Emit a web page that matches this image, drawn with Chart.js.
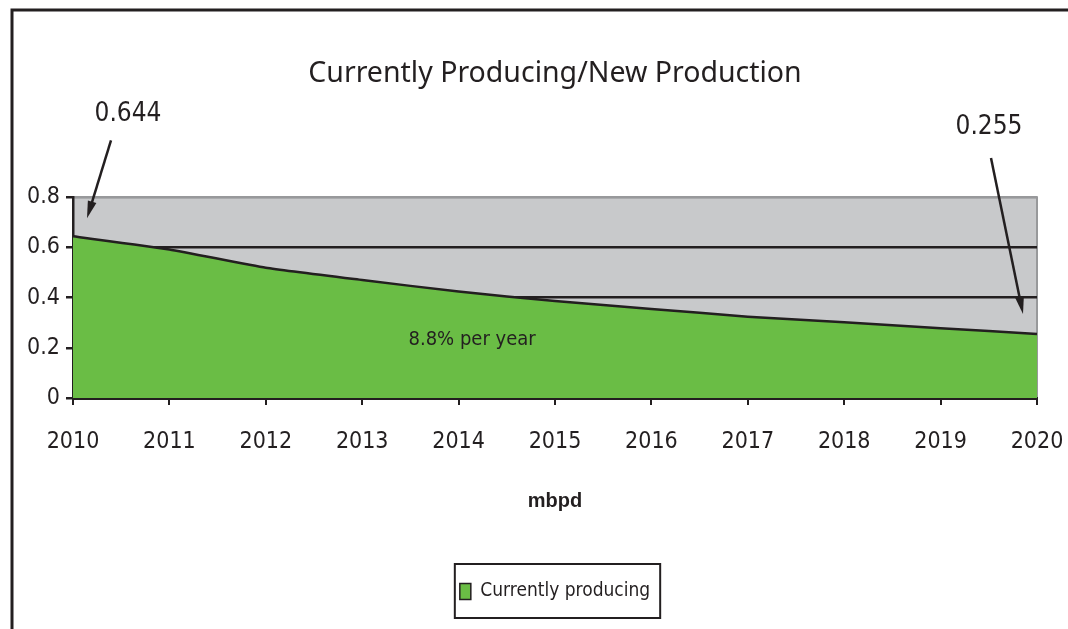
<!DOCTYPE html>
<html>
<head>
<meta charset="utf-8">
<script src="https://cdn.jsdelivr.net/npm/chart.js@4.4.1/dist/chart.umd.min.js"></script>
<style>
  html, body { margin: 0; padding: 0; background: #fff; }
  #wrap { width: 1068px; height: 629px; }
</style>
</head>
<body>
<div id="wrap"><canvas id="myChart"></canvas></div>
<script>
// data
const years = ['2010','2011','2012','2013','2014','2015','2016','2017','2018','2019','2020'];
const producing = [0.644, 0.592, 0.519, 0.470, 0.424, 0.386, 0.355, 0.324, 0.302, 0.278, 0.255];
const yTicks = [0, 0.2, 0.4, 0.6, 0.8];
const notes = [
  { text: '0.644', idx: 0 },
  { text: '0.255', idx: 10 }
];
const rateNote = '8.8% per year';

const narrow = "'Liberation Sans Narrow', 'DejaVu Sans Condensed', Arial, sans-serif";
const ink = '#231f20';

// grey plot background + outer frame
const backdrop = {
  id: 'backdrop',
  beforeDraw(chart) {
    const c = chart.ctx, a = chart.chartArea;
    c.save();
    c.fillStyle = '#c8c9cb';
    c.fillRect(a.left, a.top, a.right - a.left, a.bottom - a.top);
    c.strokeStyle = '#98999b';
    c.lineWidth = 2;
    c.beginPath();
    c.moveTo(a.left, a.top);
    c.lineTo(a.right, a.top);
    c.lineTo(a.right, a.bottom);
    c.stroke();
    // page frame
    c.strokeStyle = ink;
    c.lineWidth = 3;
    c.beginPath();
    c.moveTo(12, chart.height);
    c.lineTo(12, 10);
    c.lineTo(chart.width, 10);
    c.stroke();
    c.restore();
  }
};

function arrow(c, x1, y1, x2, y2) {
  const ang = Math.atan2(y2 - y1, x2 - x1);
  c.beginPath();
  c.moveTo(x1, y1);
  c.lineTo(x2 - 10 * Math.cos(ang), y2 - 10 * Math.sin(ang));
  c.stroke();
  c.beginPath();
  c.moveTo(x2, y2);
  c.lineTo(x2 - 18 * Math.cos(ang - 0.25), y2 - 18 * Math.sin(ang - 0.25));
  c.lineTo(x2 - 18 * Math.cos(ang + 0.25), y2 - 18 * Math.sin(ang + 0.25));
  c.closePath();
  c.fill();
}

// value call-outs, legend frame, rate text
const callouts = {
  id: 'callouts',
  afterDraw(chart) {
    const c = chart.ctx;
    const xs = chart.scales.x, ys = chart.scales.y;
    c.save();
    c.fillStyle = ink;
    c.strokeStyle = ink;
    c.lineWidth = 2.5;
    c.textAlign = 'center';
    c.textBaseline = 'middle';
    c.font = '26px ' + narrow;

    // left note
    let px = xs.getPixelForValue(notes[0].idx), py = ys.getPixelForValue(producing[notes[0].idx]);
    c.fillText(notes[0].text, px + 55, py - 122);
    arrow(c, px + 38, py - 96, px + 14, py - 18);

    // right note
    px = xs.getPixelForValue(notes[1].idx); py = ys.getPixelForValue(producing[notes[1].idx]);
    c.fillText(notes[1].text, px - 48, py - 207);
    arrow(c, px - 46, py - 176, px - 14, py - 20);

    c.font = '20px ' + narrow;
    c.fillText(rateNote, xs.getPixelForValue(4.14), ys.getPixelForValue(0.23));

    // box round the legend
    const hb = chart.legend.legendHitBoxes[0];
    if (hb) {
      c.lineWidth = 2;
      c.strokeRect(hb.left - 5, hb.top - 18, hb.width + 15, hb.height + 35);
    }
    c.restore();
  }
};

const ctx = document.getElementById('myChart').getContext('2d');
const myChart = new Chart(ctx, {
  type: 'line',
  data: {
    labels: years,
    datasets: [{
      label: 'Currently producing',
      data: producing,
      fill: 'origin',
      backgroundColor: '#6abd45',
      borderColor: ink,
      borderWidth: 2.5,
      pointRadius: 0,
      tension: 0.15
    }]
  },
  options: {
    responsive: true,
    maintainAspectRatio: false,
    animation: false,
    layout: { padding: { left: 0, right: 31, top: 0, bottom: 18 } },
    plugins: {
      title: {
        display: true,
        text: 'Currently Producing/New Production',
        color: ink,
        fullSize: false,
        font: { family: "'Noto Sans', sans-serif", size: 28.5, weight: 'normal' },
        padding: { top: 57, bottom: 106 }
      },
      legend: {
        display: true,
        position: 'bottom',
        fullSize: false,
        labels: {
          color: ink,
          font: { family: narrow, size: 19 },
          boxWidth: 11,
          boxHeight: 16,
          padding: 10,
          generateLabels(chart) {
            return [{
              text: 'Currently producing',
              fillStyle: '#6abd45',
              strokeStyle: ink,
              lineWidth: 1.5,
              fontColor: ink,
              datasetIndex: 0
            }];
          }
        }
      },
      tooltip: { enabled: false }
    },
    scales: {
      x: {
        grid: {
          drawOnChartArea: false,
          drawTicks: true,
          tickLength: 7,
          color: ink,
          lineWidth: 2
        },
        border: { color: ink, width: 3 },
        ticks: {
          color: ink,
          font: { family: narrow, size: 23 },
          padding: 23,
          maxRotation: 0,
          autoSkip: false
        },
        title: {
          display: true,
          text: 'mbpd',
          color: ink,
          font: { family: "Arial, 'Liberation Sans', sans-serif", size: 20, weight: 'bold' },
          padding: { top: 0, bottom: 59 }
        },
        afterFit(scale) {
          scale.height = 174;
          scale.paddingLeft = 0;
          scale.paddingRight = 0;
        }
      },
      y: {
        min: 0,
        max: 0.8,
        afterBuildTicks(scale) { scale.ticks = yTicks.map(v => ({ value: v })); },
        grid: {
          color: ctx => ctx.tick && ctx.tick.value === 0.8 ? '#98999b' : ink,
          lineWidth: 2.5,
          tickLength: 7,
          tickColor: ink
        },
        border: { color: ink, width: 2.5 },
        ticks: {
          color: ink,
          font: { family: narrow, size: 23 },
          padding: 6,
          callback: v => String(v)
        },
        afterFit(scale) { scale.width = 73; }
      }
    }
  },
  plugins: [backdrop, callouts]
});
</script>
</body>
</html>
